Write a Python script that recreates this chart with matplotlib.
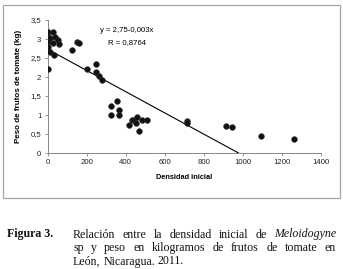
import matplotlib
matplotlib.use("Agg")
import matplotlib.pyplot as plt
from matplotlib.ticker import FuncFormatter
from matplotlib.patches import Rectangle
from matplotlib.transforms import IdentityTransform
import numpy as np

# data
densidad = [0, 3, 25, 0, 12, 37, 54, 0, 25, 0, 60, 3, 12, 32, 126, 152, 158,
            200, 246, 246, 263, 280, 325, 325, 354, 367, 367,
            419, 434, 445, 453, 460, 470, 482, 508,
            713, 715, 913, 947, 1094, 1265]
peso = [2.22, 3.18, 3.18, 3.06, 3.02, 3.06, 2.98, 2.93, 2.89, 2.80, 2.86, 2.72, 2.67, 2.57, 2.70, 2.92, 2.90,
        2.22, 2.33, 2.12, 2.03, 1.92, 1.24, 1.00, 1.38, 1.12, 1.00,
        0.75, 0.87, 0.86, 0.80, 0.96, 0.59, 0.88, 0.88,
        0.85, 0.78, 0.71, 0.69, 0.46, 0.36]
trend_b0 = 2.73
trend_b1 = -0.00279
eq_text = "y = 2,75-0,003x"
r_text = "R = 0,8764"
x_ticks = [0, 200, 400, 600, 800, 1000, 1200, 1400]
y_ticks = [0, 0.5, 1, 1.5, 2, 2.5, 3, 3.5]

W, H = 343, 269
fig = plt.figure(figsize=(W / 100, H / 100), dpi=100)
fig.patch.set_facecolor("white")
sans = ["Liberation Sans", "DejaVu Sans"]

# gray frame around the chart
fig.patches.append(Rectangle((3 / W, 1 - 198 / H), 337 / W, 193 / H, transform=fig.transFigure,
                             fill=False, edgecolor="#a6a6a6", linewidth=0.9))

ax = fig.add_axes([47.7 / W, 1 - 153 / H, 273 / W, 133 / H])
ax.scatter(densidad, peso, s=17, color="#111111", edgecolors="#333333", linewidths=0.4, zorder=3)
xs = np.array([0, 1400])
ax.plot(xs, trend_b0 + trend_b1 * xs, color="black", linewidth=0.8, zorder=2)

ax.set_xlim(0, 1400)
ax.set_ylim(0, 3.5)
ax.set_xticks(x_ticks)
ax.set_yticks(y_ticks)
ax.yaxis.set_major_formatter(FuncFormatter(lambda v, p: "{:g}".format(v).replace(".", ",")))
for s in ["top", "right"]:
    ax.spines[s].set_visible(False)
for s in ["left", "bottom"]:
    ax.spines[s].set_color("#868686")
    ax.spines[s].set_linewidth(0.7)
ax.tick_params(length=2.5, width=0.6, color="#868686", labelsize=5.6, pad=2, labelcolor="#222222")
for lab in ax.get_xticklabels() + ax.get_yticklabels():
    lab.set_family(sans)
ax.set_xlabel("Densidad inicial", fontsize=5.3, fontweight="bold", family=sans, labelpad=5.5)
ax.set_ylabel("Peso de frutos de tomate (kg)", fontsize=5.8, fontweight="bold", family=sans, labelpad=6)

fig.text(127 / W, 1 - 30.7 / H, eq_text, fontsize=5.6, family=sans, ha="center", va="center")
fig.text(127 / W, 1 - 42.7 / H, r_text, fontsize=5.6, family=sans, ha="center", va="center")

# caption, justified word by word
renderer = fig.canvas.get_renderer()
serif = "Liberation Serif"
cap_size = 8.6


def put_line(words, y_top, x0, x1, justify=True):
    texts = []
    for w, style in words:
        t = fig.text(0, 0, w, fontsize=cap_size, family=serif, style=style,
                     transform=IdentityTransform(), va="baseline", ha="left", color="#111111")
        texts.append(t)
    widths = [t.get_window_extent(renderer).width for t in texts]
    if justify and len(words) > 1:
        gap = (x1 - x0 - sum(widths)) / (len(words) - 1)
    else:
        gap = texts[0].get_window_extent(renderer).height * 0.22
    x = x0
    for t, w in zip(texts, widths):
        t.set_position((x, H - y_top))
        x += w + gap


fig.text(7 / W, 1 - 237.5 / H, "Figura 3.", fontsize=cap_size, family=serif,
         fontweight="bold", va="baseline", color="#111111")
line1 = [("Relación", "normal"), ("entre", "normal"), ("la", "normal"), ("densidad", "normal"),
         ("inicial", "normal"), ("de", "normal"), ("Meloidogyne", "italic")]
line2 = [("sp", "normal"), ("y", "normal"), ("peso", "normal"), ("en", "normal"),
         ("kilogramos", "normal"), ("de", "normal"), ("frutos", "normal"), ("de", "normal"),
         ("tomate", "normal"), ("en", "normal")]
line3 = [("León,", "normal"), ("Nicaragua.", "normal"), ("2011.", "normal")]
put_line(line1, 237.5, 73, 336)
put_line(line2, 251, 73, 336)
put_line(line3, 264.5, 73, 336, justify=False)

fig.savefig("out.png", dpi=100)
